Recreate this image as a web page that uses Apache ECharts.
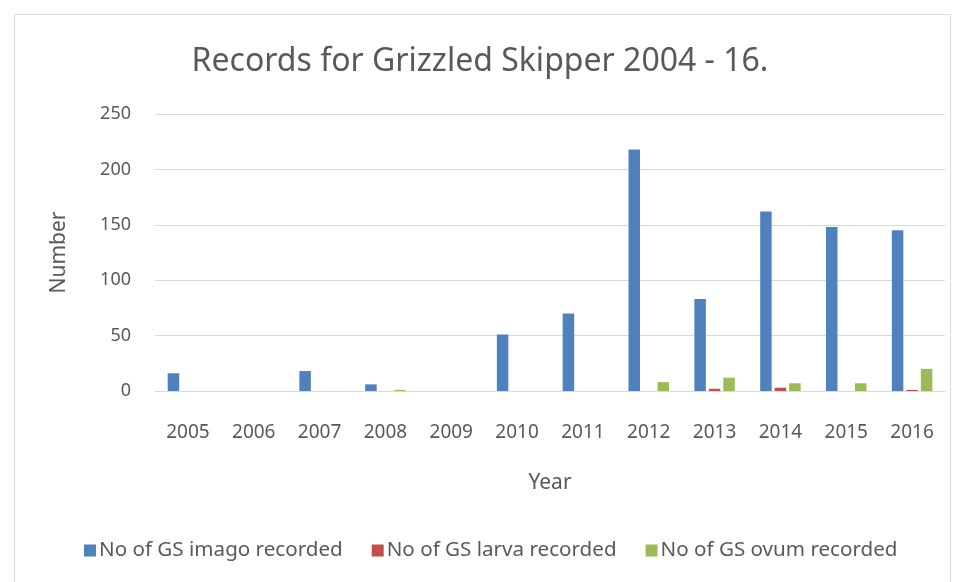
<!DOCTYPE html>
<html lang="en">
<head>
    <meta charset="UTF-8">
    <title>Records for Grizzled Skipper</title>
    <script src="https://cdn.jsdelivr.net/npm/echarts@6/dist/echarts.min.js"></script>
    <style>
        html, body { margin: 0; padding: 0; background: #fff; }
        #main { width: 960px; height: 582px; }
    </style>
</head>
<body>
<div id="main"></div>
<script type="text/javascript">
    // chart data
    var years = ['2005', '2006', '2007', '2008', '2009', '2010', '2011', '2012', '2013', '2014', '2015', '2016'];
    var imago = [16, 0, 18, 6, 0, 51, 70, 218, 83, 162, 148, 145];
    var larva = [0, 0, 0, 0, 0, 0, 0, 0, 2, 3, 0, 1];
    var ovum = [0, 0, 0, 1, 0, 0, 0, 8, 12, 7, 7, 20];
    var yTicks = [0, 50, 100, 150, 200, 250];

    var font = 'Noto Sans';
    var grey = '#595959';

    var myChart = echarts.init(document.getElementById('main'));

    function makeBar(name, data, color) {
        return {
            name: name,
            type: 'bar',
            data: data,
            barWidth: 11.5,
            barGap: '26%',
            itemStyle: { color: color }
        };
    }

    var option = {
        animation: false,
        textStyle: { fontFamily: font },
        graphic: [{
            type: 'rect',
            shape: { x: 14.5, y: 14.5, width: 936, height: 600 },
            style: { fill: 'none', stroke: '#d9d9d9', lineWidth: 1 },
            silent: true
        }],
        title: {
            text: 'Records for Grizzled Skipper 2004 - 16.',
            left: 'center',
            top: 41,
            textStyle: { fontFamily: font, fontSize: 32, fontWeight: 'normal', color: grey }
        },
        legend: {
            bottom: 16,
            left: 79,
            itemWidth: 12,
            itemHeight: 12,
            itemGap: 29,
            icon: 'rect',
            textStyle: { fontFamily: font, fontSize: 20.6, color: grey, padding: [0, 0, 0, -2] },
            data: ['No of GS imago recorded', 'No of GS larva recorded', 'No of GS ovum recorded']
        },
        grid: { left: 155, right: 15, top: 114, bottom: 191 },
        xAxis: {
            type: 'category',
            data: years,
            name: 'Year',
            nameLocation: 'middle',
            nameGap: 82,
            nameTextStyle: { fontSize: 21, color: grey },
            axisTick: { show: false },
            axisLine: { lineStyle: { color: '#d9d9d9' } },
            axisLabel: { fontSize: 19, color: grey, margin: 32 }
        },
        yAxis: {
            type: 'value',
            min: yTicks[0],
            max: yTicks[yTicks.length - 1],
            interval: 50,
            name: 'Number',
            nameLocation: 'middle',
            nameGap: 85,
            nameRotate: 90,
            nameTextStyle: { fontSize: 21, color: grey },
            axisLabel: { fontSize: 18, color: grey, margin: 24 },
            splitLine: { lineStyle: { color: '#d9d9d9' } }
        },
        series: [
            makeBar('No of GS imago recorded', imago, '#4f81bd'),
            makeBar('No of GS larva recorded', larva, '#c0504d'),
            makeBar('No of GS ovum recorded', ovum, '#9bbb59')
        ]
    };

    myChart.setOption(option);
</script>
</body>
</html>
